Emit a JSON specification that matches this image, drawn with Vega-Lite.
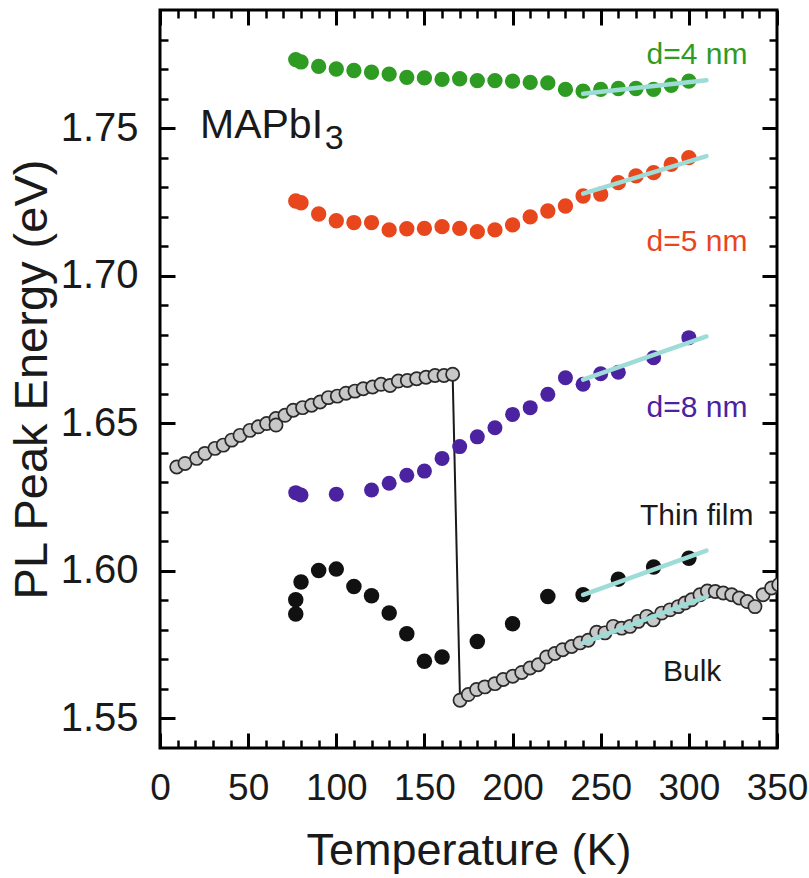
{
  "$schema": "https://vega.github.io/schema/vega-lite/v6.json",
  "width": 617,
  "height": 738,
  "autosize": {"type": "none"},
  "padding": {"left": 160, "top": 10, "right": 32, "bottom": 130},
  "background": "white",
  "config": {
    "view": {"stroke": "black", "strokeWidth": 3},
    "font": "Liberation Sans",
    "axis": {"domain": false, "grid": false, "tickColor": "black", "labelColor": "#1a1a1a", "titleColor": "#1a1a1a", "labelFont": "Liberation Sans", "titleFont": "Liberation Sans", "titleFontWeight": "normal"}
  },
  "datasets": {
    "bulk": [
      {"T": 9.5, "E": 1.6352}, {"T": 14.2, "E": 1.6364}, {"T": 20.8, "E": 1.6381}, {"T": 25.5, "E": 1.6398}, {"T": 31.2, "E": 1.6415}, {"T": 35.9, "E": 1.6426}, {"T": 40.7, "E": 1.6443}, {"T": 45.4, "E": 1.6459}, {"T": 51.0, "E": 1.6476}, {"T": 55.8, "E": 1.6488}, {"T": 60.5, "E": 1.6499}, {"T": 65.8, "E": 1.6516}, {"T": 65.8, "E": 1.6494}, {"T": 70.9, "E": 1.6527}, {"T": 75.6, "E": 1.6544}, {"T": 80.9, "E": 1.6553}, {"T": 86.0, "E": 1.6561}, {"T": 90.8, "E": 1.6572}, {"T": 95.5, "E": 1.6587}, {"T": 100.6, "E": 1.6592}, {"T": 105.5, "E": 1.6602}, {"T": 110.6, "E": 1.6609}, {"T": 115.3, "E": 1.6617}, {"T": 120.6, "E": 1.6623}, {"T": 125.4, "E": 1.6632}, {"T": 130.5, "E": 1.6628}, {"T": 135.2, "E": 1.6643}, {"T": 140.3, "E": 1.6645}, {"T": 145.6, "E": 1.6651}, {"T": 150.9, "E": 1.6656}, {"T": 156.0, "E": 1.6662}, {"T": 161.1, "E": 1.6662}, {"T": 166.0, "E": 1.6666},
      {"T": 170.2, "E": 1.5562}, {"T": 174.9, "E": 1.5581}, {"T": 179.6, "E": 1.5598}, {"T": 184.3, "E": 1.5607}, {"T": 190.0, "E": 1.5618}, {"T": 194.7, "E": 1.5632}, {"T": 200.1, "E": 1.5643}, {"T": 205.2, "E": 1.5656}, {"T": 209.9, "E": 1.5671}, {"T": 214.6, "E": 1.5682}, {"T": 219.3, "E": 1.5708}, {"T": 224.0, "E": 1.572}, {"T": 228.4, "E": 1.5733}, {"T": 233.5, "E": 1.5744}, {"T": 238.2, "E": 1.5756}, {"T": 242.9, "E": 1.5765}, {"T": 247.7, "E": 1.5792}, {"T": 252.4, "E": 1.579}, {"T": 257.1, "E": 1.5812}, {"T": 261.9, "E": 1.5806}, {"T": 266.6, "E": 1.5812}, {"T": 271.3, "E": 1.5829}, {"T": 276.1, "E": 1.5846}, {"T": 279.8, "E": 1.5834}, {"T": 284.6, "E": 1.5857}, {"T": 289.3, "E": 1.5868}, {"T": 294.0, "E": 1.5879}, {"T": 297.8, "E": 1.5891}, {"T": 301.6, "E": 1.5902}, {"T": 306.3, "E": 1.5919}, {"T": 310.5, "E": 1.5932}, {"T": 315.0, "E": 1.593}, {"T": 319.5, "E": 1.5925}, {"T": 324.3, "E": 1.5919}, {"T": 328.6, "E": 1.5908}, {"T": 333.1, "E": 1.5896}, {"T": 337.5, "E": 1.5879}, {"T": 342.1, "E": 1.5919}, {"T": 346.9, "E": 1.5942}, {"T": 351.0, "E": 1.5953}
    ],
    "jump": [{"T": 166.0, "E": 1.6666}, {"T": 170.2, "E": 1.5562}],
    "d4": [
      {"T": 77, "E": 1.7732}, {"T": 80, "E": 1.7724}, {"T": 90, "E": 1.7709}, {"T": 100, "E": 1.77}, {"T": 110, "E": 1.7695}, {"T": 120, "E": 1.7689}, {"T": 130, "E": 1.7683}, {"T": 140, "E": 1.7672}, {"T": 150, "E": 1.767}, {"T": 160, "E": 1.7665}, {"T": 170, "E": 1.7667}, {"T": 180, "E": 1.7661}, {"T": 190, "E": 1.7661}, {"T": 200, "E": 1.7659}, {"T": 210, "E": 1.7655}, {"T": 220, "E": 1.7653}, {"T": 230, "E": 1.7631}, {"T": 240, "E": 1.7625}, {"T": 250, "E": 1.7631}, {"T": 260, "E": 1.7634}, {"T": 270, "E": 1.7634}, {"T": 280, "E": 1.7631}, {"T": 290, "E": 1.7645}, {"T": 300, "E": 1.7659}
    ],
    "d5": [
      {"T": 77, "E": 1.7253}, {"T": 80, "E": 1.7247}, {"T": 90, "E": 1.7209}, {"T": 100, "E": 1.7186}, {"T": 110, "E": 1.718}, {"T": 120, "E": 1.718}, {"T": 130, "E": 1.7155}, {"T": 140, "E": 1.7159}, {"T": 150, "E": 1.716}, {"T": 160, "E": 1.7166}, {"T": 170, "E": 1.716}, {"T": 180, "E": 1.7149}, {"T": 190, "E": 1.7155}, {"T": 200, "E": 1.7172}, {"T": 210, "E": 1.7199}, {"T": 220, "E": 1.7219}, {"T": 230, "E": 1.7236}, {"T": 240, "E": 1.727}, {"T": 250, "E": 1.7276}, {"T": 260, "E": 1.7315}, {"T": 270, "E": 1.7338}, {"T": 280, "E": 1.7349}, {"T": 290, "E": 1.7377}, {"T": 300, "E": 1.74}
    ],
    "d8": [
      {"T": 77, "E": 1.6265}, {"T": 80, "E": 1.6257}, {"T": 100, "E": 1.626}, {"T": 120, "E": 1.6274}, {"T": 130, "E": 1.6297}, {"T": 140, "E": 1.6324}, {"T": 150, "E": 1.6338}, {"T": 160, "E": 1.6381}, {"T": 170, "E": 1.6421}, {"T": 180, "E": 1.6454}, {"T": 190, "E": 1.6485}, {"T": 200, "E": 1.653}, {"T": 210, "E": 1.6553}, {"T": 220, "E": 1.6598}, {"T": 230, "E": 1.6654}, {"T": 240, "E": 1.6632}, {"T": 250, "E": 1.6668}, {"T": 260, "E": 1.6673}, {"T": 280, "E": 1.6722}, {"T": 300, "E": 1.679}
    ],
    "thin": [
      {"T": 77, "E": 1.5854}, {"T": 77, "E": 1.5902}, {"T": 80, "E": 1.5962}, {"T": 90, "E": 1.6001}, {"T": 100, "E": 1.6006}, {"T": 110, "E": 1.5947}, {"T": 120, "E": 1.5916}, {"T": 130, "E": 1.5857}, {"T": 140, "E": 1.5787}, {"T": 150, "E": 1.5694}, {"T": 160, "E": 1.5708}, {"T": 180, "E": 1.5761}, {"T": 200, "E": 1.5821}, {"T": 220, "E": 1.5913}, {"T": 240, "E": 1.5919}, {"T": 260, "E": 1.5972}, {"T": 280, "E": 1.6013}, {"T": 300, "E": 1.6043}
    ],
    "fits": [
      {"s": "d4", "T": 240, "E": 1.7616}, {"s": "d4", "T": 310, "E": 1.7662},
      {"s": "d5", "T": 240, "E": 1.7278}, {"s": "d5", "T": 310, "E": 1.7405},
      {"s": "d8", "T": 240, "E": 1.6648}, {"s": "d8", "T": 310, "E": 1.6794},
      {"s": "thin", "T": 240, "E": 1.5919}, {"s": "thin", "T": 310, "E": 1.6069},
      {"s": "bulk", "T": 240, "E": 1.5756}, {"s": "bulk", "T": 310, "E": 1.5913}
    ]
  },
  "resolve": {"scale": {"x": "shared", "y": "shared"}, "axis": {"x": "independent", "y": "independent"}},
  "layer": [
    {
      "data": {"name": "jump"},
      "mark": {"type": "line", "color": "#1a1a1a", "strokeWidth": 2},
      "encoding": {
        "x": {"field": "T", "type": "quantitative", "scale": {"domain": [0, 350], "nice": false, "zero": false},
              "axis": {"orient": "bottom", "values": [0, 50, 100, 150, 200, 250, 300, 350], "ticks": false, "labelFontSize": 37, "labelPadding": 22, "labelFlush": false, "labelOverlap": false, "title": "Temperature (K)", "titleFontSize": 45, "titlePadding": 22}},
        "y": {"field": "E", "type": "quantitative", "scale": {"domain": [1.54, 1.79], "nice": false, "zero": false},
              "axis": {"orient": "left", "values": [1.55, 1.6, 1.65, 1.7, 1.75], "format": ".2f", "ticks": false, "labelFontSize": 40, "labelPadding": 22, "labelFlush": false, "labelOverlap": false, "title": "PL Peak Energy (eV)", "titleFontSize": 47, "titlePadding": 4}}
      }
    },
    {
      "data": {"name": "bulk"},
      "mark": {"type": "point", "filled": true, "fill": "#c8c8c8", "stroke": "#2a2a2a", "strokeWidth": 1.7, "size": 175, "opacity": 1, "clip": true},
      "encoding": {
        "x": {"field": "T", "type": "quantitative", "axis": {"orient": "bottom", "values": [0, 50, 100, 150, 200, 250, 300, 350], "offset": -15, "tickSize": 15, "tickWidth": 3, "labels": false, "title": null}},
        "y": {"field": "E", "type": "quantitative", "axis": {"orient": "left", "values": [1.55, 1.6, 1.65, 1.7, 1.75], "offset": -15, "tickSize": 15, "tickWidth": 3, "labels": false, "title": null}}
      }
    },
    {
      "data": {"name": "d4"},
      "mark": {"type": "circle", "color": "#2e9b22", "size": 235, "opacity": 1},
      "encoding": {
        "x": {"field": "T", "type": "quantitative", "axis": {"orient": "top", "values": [0, 50, 100, 150, 200, 250, 300, 350], "offset": -15, "tickSize": 15, "tickWidth": 3, "labels": false, "title": null}},
        "y": {"field": "E", "type": "quantitative", "axis": {"orient": "right", "values": [1.55, 1.6, 1.65, 1.7, 1.75], "offset": -15, "tickSize": 15, "tickWidth": 3, "labels": false, "title": null}}
      }
    },
    {
      "data": {"name": "d5"},
      "mark": {"type": "circle", "color": "#e8461c", "size": 235, "opacity": 1},
      "encoding": {
        "x": {"field": "T", "type": "quantitative", "axis": {"orient": "bottom", "values": [10, 20, 30, 40, 60, 70, 80, 90, 110, 120, 130, 140, 160, 170, 180, 190, 210, 220, 230, 240, 260, 270, 280, 290, 310, 320, 330, 340], "offset": -8, "tickSize": 8, "tickWidth": 2.5, "labels": false, "title": null}},
        "y": {"field": "E", "type": "quantitative", "axis": {"orient": "left", "values": [1.56, 1.57, 1.58, 1.59, 1.61, 1.62, 1.63, 1.64, 1.66, 1.67, 1.68, 1.69, 1.71, 1.72, 1.73, 1.74, 1.76, 1.77, 1.78], "offset": -8, "tickSize": 8, "tickWidth": 2.5, "labels": false, "title": null}}
      }
    },
    {
      "data": {"name": "d8"},
      "mark": {"type": "circle", "color": "#4b22a0", "size": 225, "opacity": 1},
      "encoding": {
        "x": {"field": "T", "type": "quantitative", "axis": {"orient": "top", "values": [10, 20, 30, 40, 60, 70, 80, 90, 110, 120, 130, 140, 160, 170, 180, 190, 210, 220, 230, 240, 260, 270, 280, 290, 310, 320, 330, 340], "offset": -8, "tickSize": 8, "tickWidth": 2.5, "labels": false, "title": null}},
        "y": {"field": "E", "type": "quantitative", "axis": {"orient": "right", "values": [1.56, 1.57, 1.58, 1.59, 1.61, 1.62, 1.63, 1.64, 1.66, 1.67, 1.68, 1.69, 1.71, 1.72, 1.73, 1.74, 1.76, 1.77, 1.78], "offset": -8, "tickSize": 8, "tickWidth": 2.5, "labels": false, "title": null}}
      }
    },
    {
      "data": {"name": "thin"},
      "mark": {"type": "circle", "color": "#111111", "size": 240, "opacity": 1},
      "encoding": {
        "x": {"field": "T", "type": "quantitative", "axis": null},
        "y": {"field": "E", "type": "quantitative", "axis": null}
      }
    },
    {
      "data": {"name": "fits"},
      "mark": {"type": "line", "color": "#9edcd8", "strokeWidth": 4.5, "strokeCap": "round"},
      "encoding": {
        "x": {"field": "T", "type": "quantitative", "axis": null},
        "y": {"field": "E", "type": "quantitative", "axis": null},
        "detail": {"field": "s"}
      }
    },
    {
      "data": {"values": [{"label": "MAPbI"}]},
      "mark": {"type": "text", "align": "left", "baseline": "alphabetic", "fontSize": 41, "font": "Liberation Sans", "color": "#1a1a1a"},
      "encoding": {"x": {"datum": 22.7, "type": "quantitative", "axis": null}, "y": {"datum": 1.7466, "type": "quantitative", "axis": null}, "text": {"field": "label"}}
    },
    {
      "data": {"values": [{"label": "3"}]},
      "mark": {"type": "text", "align": "left", "baseline": "alphabetic", "fontSize": 34, "font": "Liberation Sans", "color": "#1a1a1a"},
      "encoding": {"x": {"datum": 93.5, "type": "quantitative", "axis": null}, "y": {"datum": 1.7429, "type": "quantitative", "axis": null}, "text": {"field": "label"}}
    },
    {
      "data": {"values": [
        {"label": "d=4 nm", "T": 276, "E": 1.7716, "c": "d4"},
        {"label": "d=5 nm", "T": 276, "E": 1.7085, "c": "d5"},
        {"label": "d=8 nm", "T": 276, "E": 1.652, "c": "d8"},
        {"label": "Thin film", "T": 272.3, "E": 1.6155, "c": "thin"},
        {"label": "Bulk", "T": 285.3, "E": 1.5628, "c": "bulk"}
      ]},
      "mark": {"type": "text", "align": "left", "baseline": "alphabetic", "fontSize": 30, "font": "Liberation Sans"},
      "encoding": {
        "x": {"field": "T", "type": "quantitative", "axis": null},
        "y": {"field": "E", "type": "quantitative", "axis": null},
        "text": {"field": "label"},
        "color": {"field": "c", "type": "nominal", "legend": null, "scale": {"domain": ["d4", "d5", "d8", "thin", "bulk"], "range": ["#2e9b22", "#e8461c", "#4b22a0", "#1a1a1a", "#1a1a1a"]}}
      }
    }
  ]
}
